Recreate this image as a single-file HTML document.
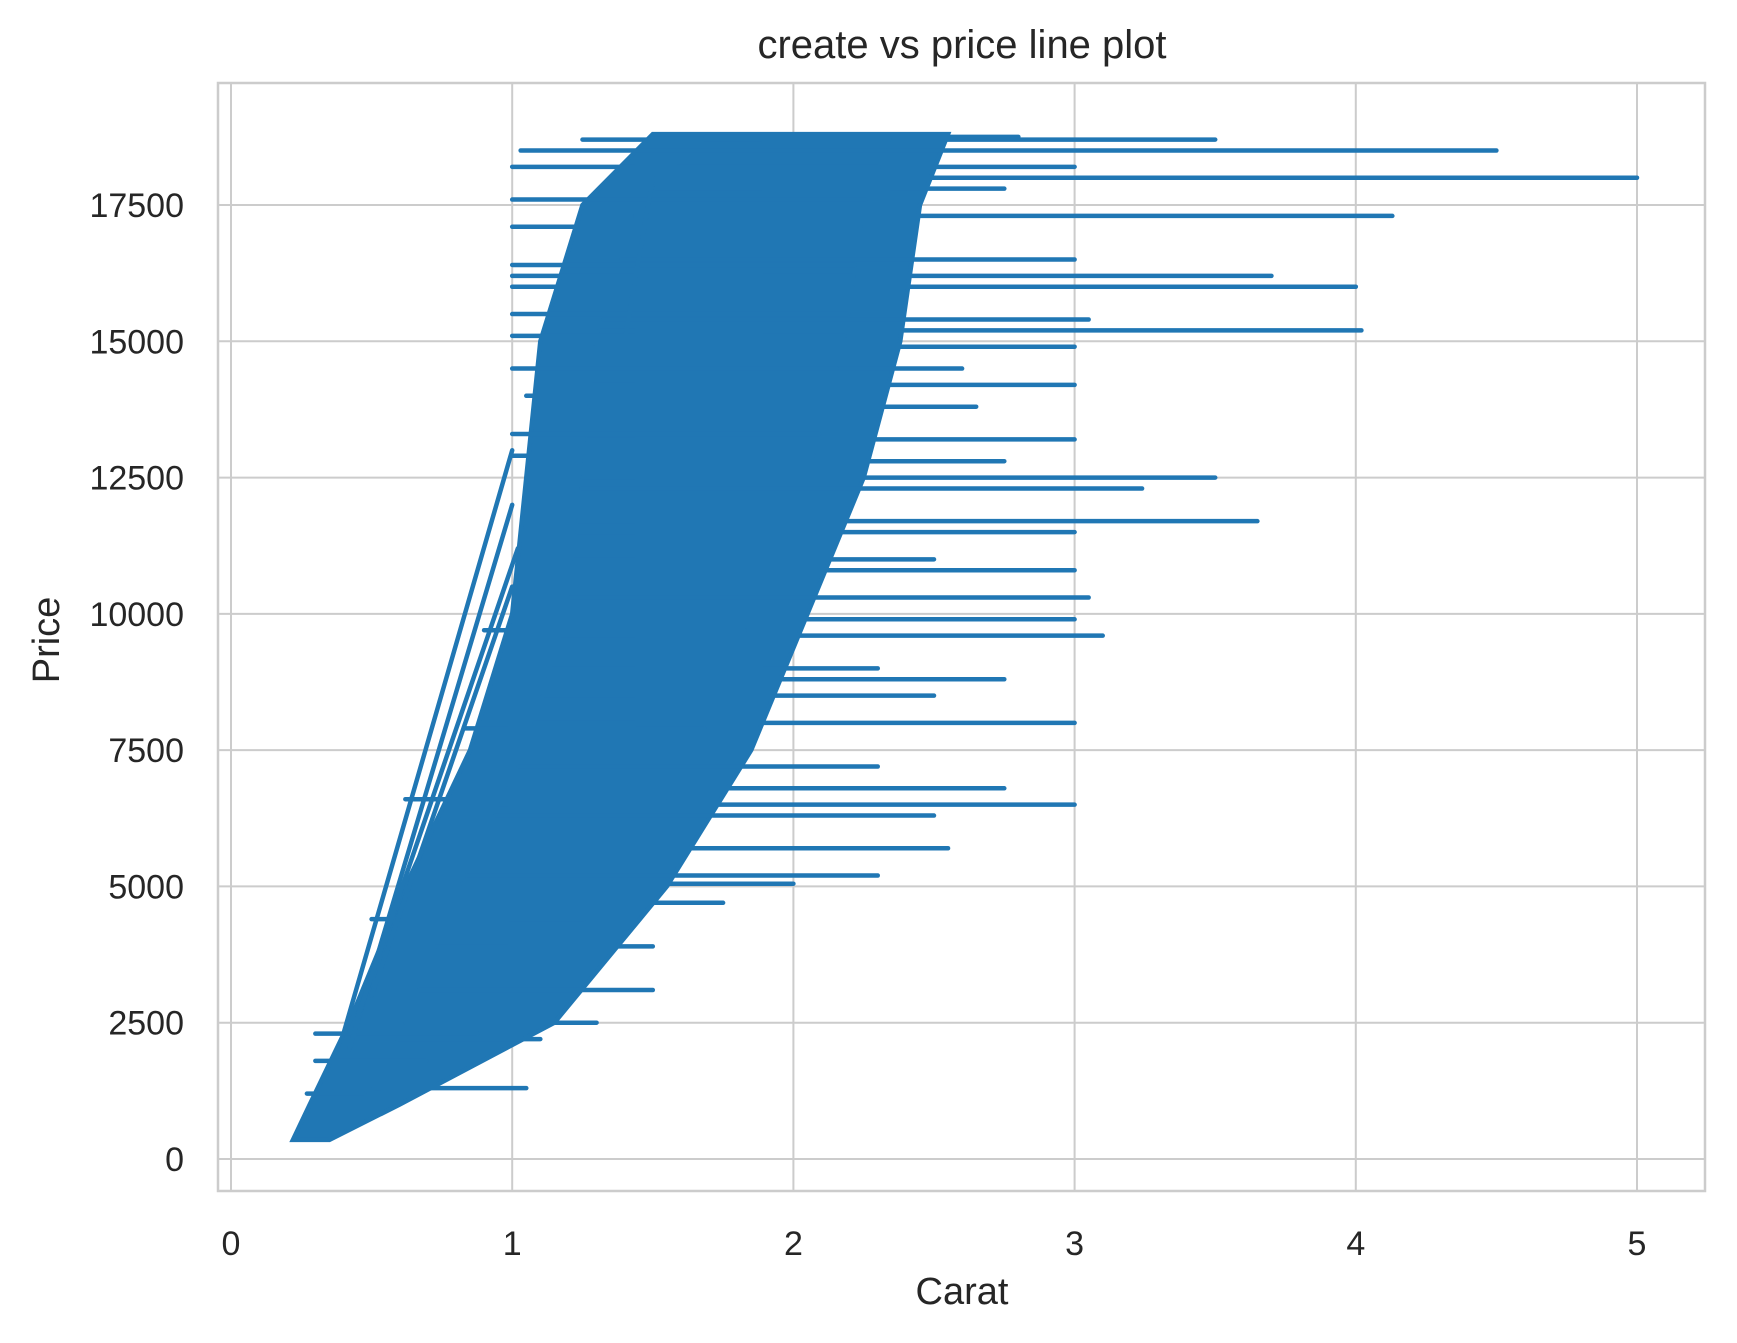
<!DOCTYPE html>
<html><head><meta charset="utf-8"><style>
body{margin:0;background:#fff}
svg{display:block;font-family:"Liberation Sans",sans-serif}
</style></head><body>
<svg id="c" width="1737" height="1343"></svg>
<script>
const xTicks=[0,1,2,3,4,5];
const yTicks=[0,2500,5000,7500,10000,12500,15000,17500];
// dense core envelope of the line plot
const envPrice=[350,1000,2500,5000,7500,10000,12500,15000,17500,18800];
const envLeft=[0.22,0.28,0.42,0.62,0.85,1.0,1.05,1.1,1.25,1.5];
const envRight=[0.35,0.6,1.15,1.55,1.85,2.05,2.25,2.38,2.45,2.55];
// horizontal excursions to the right: price, max carat
const rightPrice=[18750,18500,18000,18700,17300,16200,16000,15200,15400,14900,14200,13200,12500,12300,11700,10800,10300,9900,9600,8800,8000,6800,6500,6300,5700,5200,5050,18200,16500,17800,11000,9000,4700,3900,3100,2500,1300,2200,13800,14500,7200,8500,11500,12800];
const rightCarat=[2.8,4.5,5.0,3.5,4.13,3.7,4.0,4.02,3.05,3.0,3.0,3.0,3.5,3.24,3.65,3.0,3.05,3.0,3.1,2.75,3.0,2.75,3.0,2.5,2.55,2.3,2.0,3.0,3.0,2.75,2.5,2.3,1.75,1.5,1.5,1.3,1.05,1.1,2.65,2.6,2.3,2.5,3.0,2.75];
// horizontal excursions to the left: price, min carat
const leftPrice=[18500,18200,17600,17100,16400,16000,15500,15100,14500,13300,12900,9700,7900,6600,4400,2300,1800,1200,18700,16200,14000];
const leftCarat=[1.03,1.0,1.0,1.0,1.0,1.0,1.0,1.0,1.0,1.0,1.0,0.9,0.83,0.62,0.5,0.3,0.3,0.27,1.25,1.0,1.05];
// diagonal connecting segments: start carat/price, end carat/price
const diagX0=[0.4,0.42,0.45,0.5,1.4];
const diagY0=[2300,2000,2600,3000,15000];
const diagX1=[1.0,1.0,1.02,1.0,1.5];
const diagY1=[13000,12000,11200,10500,18000];

const L=218,R=1705,T=83,B=1191;
const X=v=>231+v*281.2;
const Y=v=>1159-v*0.054514;
const NS='http://www.w3.org/2000/svg';
const svg=document.getElementById('c');
function mk(t,a,p){const e=document.createElementNS(NS,t);for(const k in a)e.setAttribute(k,a[k]);(p||svg).appendChild(e);return e;}

const grid=mk('g',{});


xTicks.forEach(t=>{
 const l=mk('line',{x1:X(t),x2:X(t),y1:T,y2:B,stroke:'#cccccc','stroke-width':2},grid);
 
 
 const tx=mk('text',{x:X(t),y:1255,'text-anchor':'middle','font-size':34,fill:'#262626'});
 
 
 tx.textContent=t;
});
yTicks.forEach(t=>{
 const l=mk('line',{x1:L,x2:R,y1:Y(t),y2:Y(t),stroke:'#cccccc','stroke-width':2},grid);
 
 
 const tx=mk('text',{x:184,y:Y(t)+12,'text-anchor':'end','font-size':34,fill:'#262626'});
 
 
 tx.textContent=t;
});

const series=mk('g',{stroke:'#2077b4',fill:'#2077b4','stroke-width':4.5,'stroke-linecap':'round'});


let pts=[];
envPrice.forEach((p,i)=>pts.push(X(envLeft[i])+','+Y(p)));
for(let i=envPrice.length-1;i>=0;i--)pts.push(X(envRight[i])+','+Y(envPrice[i]));
const env=mk('polygon',{points:pts.join(' ')},series);


function interp(arr,p){
 for(let i=0;i<envPrice.length-1;i++){if(p<=envPrice[i+1]){const f=(p-envPrice[i])/(envPrice[i+1]-envPrice[i]);return arr[i]+f*(arr[i+1]-arr[i]);}}
 return arr[arr.length-1];
}
rightPrice.forEach((p,i)=>{
 const l=mk('line',{x1:X(interp(envLeft,p)+0.2),x2:X(rightCarat[i]),y1:Y(p),y2:Y(p)},series);
 
 
});
leftPrice.forEach((p,i)=>{
 const l=mk('line',{x1:X(leftCarat[i]),x2:X(interp(envRight,p)-0.2),y1:Y(p),y2:Y(p)},series);
 
 
});
diagX0.forEach((x,i)=>{
 const l=mk('line',{x1:X(x),y1:Y(diagY0[i]),x2:X(diagX1[i]),y2:Y(diagY1[i])},series);
 
 
});

const frame=mk('rect',{x:L,y:T,width:R-L,height:B-T,fill:'none',stroke:'#cccccc','stroke-width':2.5});



const title=mk('text',{x:962,y:58,'text-anchor':'middle','font-size':40,fill:'#262626'});


title.textContent='create vs price line plot';
const xt=mk('text',{x:962,y:1304,'text-anchor':'middle','font-size':38,fill:'#262626'});


xt.textContent='Carat';
const yt=mk('text',{x:0,y:0,'text-anchor':'middle','font-size':38,fill:'#262626',transform:'translate(59,640) rotate(-90)'});


yt.textContent='Price';
</script>
</body></html>
